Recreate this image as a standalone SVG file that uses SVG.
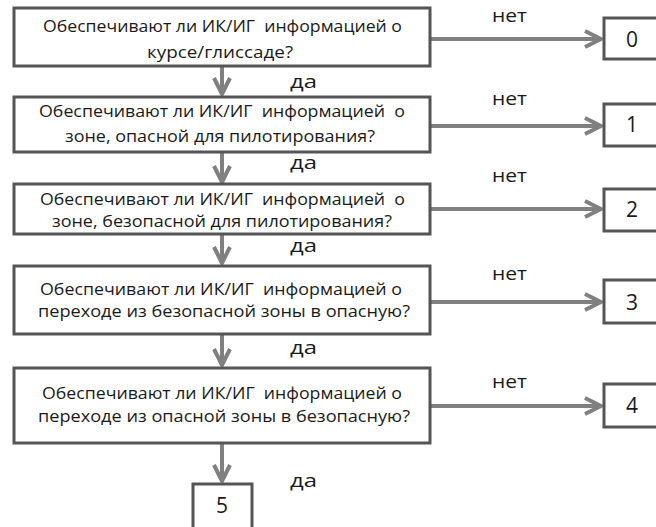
<svg xmlns="http://www.w3.org/2000/svg" width="656" height="527" viewBox="0 0 656 527">
<style>
.box{fill:#fff;stroke:#555;stroke-width:3}
.q{font-family:"Open Sans","Liberation Sans",sans-serif;font-size:17px;fill:#1a1a1a;white-space:pre}
.qs{font-size:16px}
.lbl{font-family:"Open Sans","Liberation Sans",sans-serif;font-size:18px;fill:#1a1a1a}
.num{font-family:"Open Sans","Liberation Sans",sans-serif;font-size:21px;fill:#1a1a1a;text-anchor:middle}
.arr{stroke:#808080;stroke-width:4;fill:none;marker-end:url(#ah)}
</style>
<defs>
<marker id="ah" markerUnits="userSpaceOnUse" viewBox="0 0 20 20" markerWidth="20" markerHeight="20" refX="17" refY="10" orient="auto" overflow="visible">
<path d="M1,2 L17,10 L1,18" fill="none" stroke="#808080" stroke-width="4" stroke-linejoin="round"/>
</marker>
</defs>
<rect width="656" height="527" fill="#fff"/>
<g id="connectors">
<line class="arr" x1="222" y1="67" x2="222" y2="94"/>
<line class="arr" x1="222" y1="153" x2="222" y2="182"/>
<line class="arr" x1="222" y1="235" x2="222" y2="263"/>
<line class="arr" x1="222" y1="335" x2="222" y2="365"/>
<line class="arr" x1="222" y1="444" x2="222" y2="481"/>
<line class="arr" x1="431" y1="39" x2="601" y2="39"/>
<line class="arr" x1="431" y1="126" x2="601" y2="126"/>
<line class="arr" x1="431" y1="209" x2="601" y2="209"/>
<line class="arr" x1="431" y1="302" x2="601" y2="302"/>
<line class="arr" x1="431" y1="406" x2="601" y2="406"/>
<text class="lbl" x="492" y="22" textLength="35" lengthAdjust="spacingAndGlyphs">нет</text>
<text class="lbl" x="492" y="105" textLength="35" lengthAdjust="spacingAndGlyphs">нет</text>
<text class="lbl" x="492" y="182" textLength="35" lengthAdjust="spacingAndGlyphs">нет</text>
<text class="lbl" x="492" y="280" textLength="35" lengthAdjust="spacingAndGlyphs">нет</text>
<text class="lbl" x="492" y="388" textLength="35" lengthAdjust="spacingAndGlyphs">нет</text>
<text class="lbl" x="290" y="88" textLength="27" lengthAdjust="spacingAndGlyphs">да</text>
<text class="lbl" x="290" y="169" textLength="27" lengthAdjust="spacingAndGlyphs">да</text>
<text class="lbl" x="290" y="252" textLength="27" lengthAdjust="spacingAndGlyphs">да</text>
<text class="lbl" x="290" y="354" textLength="27" lengthAdjust="spacingAndGlyphs">да</text>
<text class="lbl" x="290" y="487" textLength="27" lengthAdjust="spacingAndGlyphs">да</text>
</g>
<g id="q0">
<rect class="box" x="14" y="8" width="416" height="58"/>
<text class="q" x="43" y="32" textLength="359" lengthAdjust="spacingAndGlyphs">Обеспечивают ли ИК/ИГ  информацией о</text>
<text class="q" x="147" y="58" textLength="146" lengthAdjust="spacingAndGlyphs">курсе/глиссаде?</text>
</g>
<g id="q1">
<rect class="box" x="14" y="97" width="416" height="55"/>
<text class="q" x="39" y="117" textLength="366" lengthAdjust="spacingAndGlyphs">Обеспечивают ли ИК/ИГ  информацией  о</text>
<text class="q" x="65" y="142" textLength="310" lengthAdjust="spacingAndGlyphs">зоне, опасной для пилотирования?</text>
</g>
<g id="q2">
<rect class="box" x="14" y="184" width="416" height="50"/>
<text class="q qs" x="40" y="205" textLength="365" lengthAdjust="spacingAndGlyphs">Обеспечивают ли ИК/ИГ  информацией  о</text>
<text class="q qs" x="52" y="227" textLength="340" lengthAdjust="spacingAndGlyphs">зоне, безопасной для пилотирования?</text>
</g>
<g id="q3">
<rect class="box" x="14" y="266" width="416" height="68"/>
<text class="q" x="40" y="295" textLength="362" lengthAdjust="spacingAndGlyphs">Обеспечивают ли ИК/ИГ  информацией о</text>
<text class="q" x="38" y="317" textLength="372" lengthAdjust="spacingAndGlyphs">переходе из безопасной зоны в опасную?</text>
</g>
<g id="q4">
<rect class="box" x="14" y="368" width="416" height="75"/>
<text class="q" x="42" y="399" textLength="360" lengthAdjust="spacingAndGlyphs">Обеспечивают ли ИК/ИГ  информацией о</text>
<text class="q" x="38" y="422" textLength="372" lengthAdjust="spacingAndGlyphs">переходе из опасной зоны в безопасную?</text>
</g>
<g id="r0"><rect class="box" x="604" y="18" width="60" height="41"/><text class="num" x="632" y="47">0</text></g>
<g id="r1"><rect class="box" x="604" y="104" width="60" height="42"/><text class="num" x="632" y="132">1</text></g>
<g id="r2"><rect class="box" x="604" y="189" width="60" height="42"/><text class="num" x="632" y="217">2</text></g>
<g id="r3"><rect class="box" x="604" y="280" width="60" height="43"/><text class="num" x="632" y="310">3</text></g>
<g id="r4"><rect class="box" x="604" y="384" width="60" height="43"/><text class="num" x="632" y="413">4</text></g>
<g id="r5"><rect class="box" x="193" y="484" width="59" height="50"/><text class="num" x="222" y="513">5</text></g>
</svg>
